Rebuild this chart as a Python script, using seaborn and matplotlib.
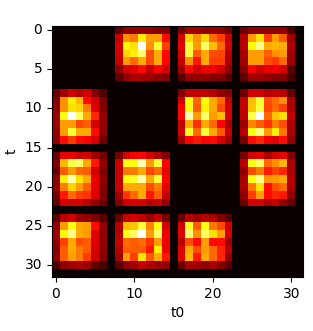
import numpy as np
import seaborn as sns
import matplotlib
matplotlib.use("Agg")
import matplotlib.pyplot as plt

GRID_SIZE = 32
BLOCK_STEP = 8

# one 7x7 patch per (row block, column block), the diagonal stays empty
block_0_1 = [[.13, .20, .20, .22, .20, .18, .18], [.28, .58, .55, .72, .60, .60, .38], [.30, .74, .70, 1.0, .58, .80, .46], [.30, .68, .72, .85, .48, .62, .38], [.28, .60, .52, .62, .48, .62, .37], [.20, .30, .32, .38, .28, .37, .30], [.13, .20, .24, .24, .22, .20, .18]]
block_0_2 = [[.15, .23, .23, .20, .22, .20, .15], [.30, .68, .58, .68, .52, .46, .28], [.33, .80, .60, .85, .65, .52, .30], [.30, .82, .50, .62, .48, .47, .26], [.28, .58, .40, .62, .46, .46, .24], [.23, .38, .30, .34, .34, .30, .20], [.12, .20, .20, .20, .18, .18, .12]]
block_0_3 = [[.15, .20, .20, .20, .20, .20, .10], [.25, .60, .70, .46, .60, .50, .22], [.26, .74, .88, .62, .64, .62, .24], [.23, .60, .60, .50, .58, .60, .22], [.23, .60, .60, .48, .45, .52, .22], [.18, .36, .30, .33, .35, .30, .12], [.13, .22, .22, .20, .18, .18, .09]]
block_1_0 = [[.13, .23, .30, .26, .30, .18, .10], [.18, .58, .72, .64, .38, .30, .17], [.20, .58, .70, .68, .55, .32, .18], [.22, .76, 1.0, .85, .62, .42, .20], [.22, .60, .60, .47, .50, .30, .20], [.20, .60, .80, .62, .62, .38, .20], [.20, .38, .45, .38, .37, .30, .15]]
block_1_2 = [[.18, .27, .27, .27, .25, .20, .18], [.30, .75, .52, .75, .62, .52, .28], [.37, .76, .50, .73, .62, .48, .30], [.37, .92, .60, .85, .60, .65, .30], [.28, .62, .43, .62, .52, .37, .24], [.30, .78, .52, .80, .62, .50, .28], [.22, .36, .40, .37, .38, .30, .22]]
block_1_3 = [[.15, .30, .30, .25, .28, .26, .13], [.27, .65, .80, .48, .52, .58, .24], [.27, .66, .80, .47, .52, .46, .24], [.27, .82, 1.0, .52, .66, .70, .28], [.22, .56, .50, .44, .55, .48, .24], [.26, .76, .87, .60, .72, .54, .24], [.16, .38, .42, .34, .32, .38, .20]]
block_2_0 = [[.14, .33, .33, .28, .30, .22, .16], [.18, .64, .82, .85, .62, .40, .20], [.14, .50, .60, .52, .50, .30, .18], [.20, .72, .92, .70, .62, .33, .20], [.20, .55, .68, .60, .50, .33, .18], [.16, .40, .52, .46, .44, .32, .18], [.12, .30, .30, .30, .26, .20, .15]]
block_2_1 = [[.16, .30, .36, .37, .30, .25, .18], [.28, .76, .75, .92, .60, .80, .36], [.28, .55, .55, .62, .47, .52, .33], [.28, .75, .78, .92, .62, .80, .36], [.28, .62, .62, .62, .48, .55, .33], [.22, .44, .52, .62, .40, .50, .28], [.18, .28, .30, .30, .25, .28, .20]]
block_2_3 = [[.16, .30, .33, .24, .30, .33, .18], [.26, .76, .84, .52, .58, .64, .24], [.20, .48, .55, .40, .46, .42, .24], [.24, .76, .88, .58, .60, .62, .26], [.24, .54, .70, .38, .48, .52, .24], [.20, .46, .60, .38, .42, .40, .20], [.14, .30, .30, .24, .28, .20, .14]]
block_3_0 = [[.12, .26, .30, .22, .20, .17, .12], [.20, .60, .76, .62, .60, .38, .20], [.22, .74, .88, .62, .60, .32, .20], [.20, .46, .62, .48, .50, .32, .20], [.18, .50, .62, .55, .50, .30, .20], [.20, .50, .60, .55, .45, .30, .18], [.09, .20, .22, .24, .22, .13, .10]]
block_3_1 = [[.14, .28, .30, .27, .22, .28, .16], [.25, .65, .66, .80, .56, .75, .30], [.25, .76, .84, 1.0, .60, .85, .34], [.28, .52, .50, .52, .44, .60, .34], [.25, .50, .50, .50, .40, .72, .34], [.22, .60, .46, .70, .50, .62, .40], [.12, .20, .22, .28, .24, .22, .20]]
block_3_2 = [[.14, .26, .22, .26, .24, .18, .11], [.30, .78, .50, .76, .54, .48, .30], [.32, .86, .58, .84, .70, .60, .30], [.26, .48, .38, .60, .38, .38, .22], [.32, .62, .48, .60, .52, .42, .26], [.32, .64, .40, .62, .52, .42, .20], [.14, .24, .22, .20, .24, .18, .12]]

blocks = {
    (0, 1): block_0_1, (0, 2): block_0_2, (0, 3): block_0_3,
    (1, 0): block_1_0, (1, 2): block_1_2, (1, 3): block_1_3,
    (2, 0): block_2_0, (2, 1): block_2_1, (2, 3): block_2_3,
    (3, 0): block_3_0, (3, 1): block_3_1, (3, 2): block_3_2,
}

x_tick_values = [0, 10, 20, 30]
y_tick_values = [0, 5, 10, 15, 20, 25, 30]


def build_matrix() -> np.ndarray:
    matrix = np.zeros((GRID_SIZE, GRID_SIZE))
    for (row, col), patch in blocks.items():
        r0, c0 = row * BLOCK_STEP, col * BLOCK_STEP
        matrix[r0:r0 + 7, c0:c0 + 7] = patch
    return matrix


def main() -> None:
    fig = plt.figure(figsize=(3.13, 3.31), dpi=100)
    ax = fig.add_axes([52 / 313, 1 - 277 / 331, 251 / 313, 251 / 331])
    sns.heatmap(build_matrix(), cmap="hot", vmin=0, vmax=1, cbar=False, square=True, ax=ax)
    ax.set_xticks([t + 0.5 for t in x_tick_values])
    ax.set_xticklabels(x_tick_values, rotation=0)
    ax.set_yticks([t + 0.5 for t in y_tick_values])
    ax.set_yticklabels(y_tick_values, rotation=0)
    ax.set_xlabel("t0")
    ax.set_ylabel("t")
    for spine in ax.spines.values():
        spine.set_visible(True)
    fig.savefig("out.png", dpi=100)


if __name__ == "__main__":
    main()
